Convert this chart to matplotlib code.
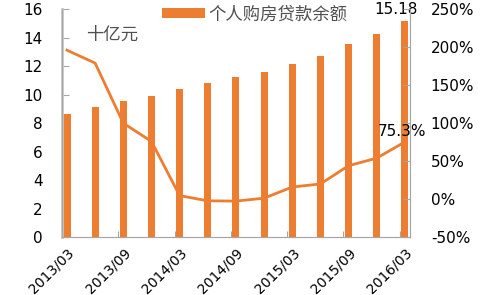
import numpy as np
import matplotlib
matplotlib.use('Agg')
import matplotlib.pyplot as plt

plt.rcParams['font.family'] = ['DejaVu Sans', 'Noto Sans CJK SC']

# data
quarters = ['2013/03', '2013/06', '2013/09', '2013/12', '2014/03', '2014/06',
            '2014/09', '2014/12', '2015/03', '2015/06', '2015/09', '2015/12',
            '2016/03']
balance = [8.66, 9.15, 9.55, 9.9, 10.37, 10.82, 11.22, 11.62, 12.18, 12.72,
           13.54, 14.27, 15.18]
growth = [196, 179, 100, 76, 4.7, -2.2, -2.5, 1.3, 16, 20, 44, 54, 75.3]

orange = '#ED7D31'
axis_grey = '#A6A6A6'
text_grey = '#505050'

fig = plt.figure(figsize=(4.8, 2.95), dpi=100)
ax = fig.add_axes([0.129, 0.196, 0.725, 0.773])
ax2 = ax.twinx()

x = np.arange(len(quarters))
ax.bar(x, balance, width=0.25, color=orange, label='个人购房贷款余额', zorder=2)
ax2.plot(x, growth, color=orange, lw=2, zorder=3)

ax.set_xlim(-0.18, len(quarters) - 1 + 0.18)
ax.set_ylim(0, 16)
ax.set_yticks(range(0, 17, 2))
ax2.set_ylim(-50, 250)
ax2.set_yticks(range(-50, 251, 50))
ax2.set_yticklabels([f'{v}%' for v in range(-50, 251, 50)])

# ticks between every second quarter, labels under the even quarters
ax.set_xticks(x[::2] - 0.18)
ax.set_xticklabels([])
ax.set_xticks(x[::2], minor=True)
ax.set_xticklabels(quarters[::2], minor=True, rotation=45, ha='right',
                   rotation_mode='anchor', fontsize=10)
ax.tick_params(axis='x', which='minor', length=0, pad=6)
ax.tick_params(axis='x', which='major', direction='in', length=4, color=axis_grey)
ax.tick_params(axis='y', direction='in', length=5, color=axis_grey, labelsize=11, pad=14)
ax2.tick_params(axis='y', direction='in', length=5, color=axis_grey, labelsize=11, pad=15)

for a in (ax, ax2):
    a.spines['top'].set_visible(False)
    for s in ('left', 'right', 'bottom'):
        a.spines[s].set_color(axis_grey)
ax.spines['left'].set_color('#C8C8C8')
ax.spines['left'].set_linewidth(2)

ax.text(x[-1] - 0.32, balance[-1] + 0.25, '15.18', ha='center', va='bottom', fontsize=11)
ax2.text(x[-1] - 0.1, growth[-1] + 4, '75.3%', ha='center', va='bottom', fontsize=11)
ax.text(1.6, 14.2, '十亿元', ha='center', va='center', fontsize=12.5,
        color=text_grey, family=['Noto Sans CJK SC'])

leg = ax.legend(loc='center left', bbox_to_anchor=(0.287, 0.977), frameon=False,
                prop={'family': 'Noto Sans CJK SC', 'size': 12.5},
                handlelength=2.5, handleheight=0.5, handletextpad=0.2,
                borderpad=0, borderaxespad=0)
for t in leg.get_texts():
    t.set_color(text_grey)

fig.savefig('out.png', dpi=100)
